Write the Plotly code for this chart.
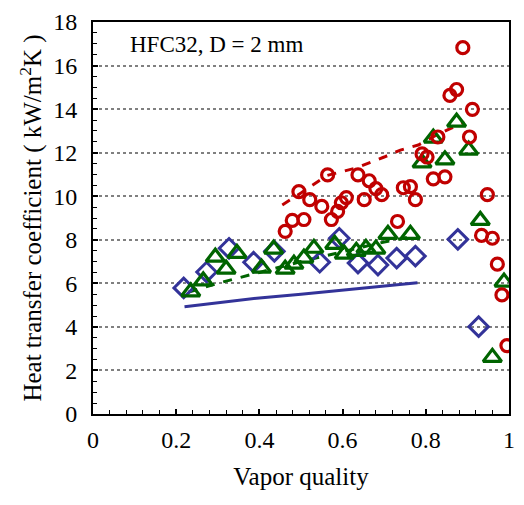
import plotly.graph_objects as go

# Blue diamonds
blue_x = [0.218, 0.273, 0.327, 0.386, 0.436, 0.545, 0.592, 0.637, 0.685, 0.730, 0.775, 0.877, 0.927]
blue_y = [5.79, 6.52, 7.61, 6.97, 7.47, 6.97, 8.07, 6.93, 6.84, 7.16, 7.25, 8.02, 4.01]

# Blue solid correlation line
blue_line_x = [0.22, 0.30, 0.40, 0.50, 0.60, 0.70, 0.78]
blue_line_y = [4.93, 5.12, 5.33, 5.50, 5.68, 5.87, 6.03]

# Green triangles
green_x = [0.235, 0.265, 0.294, 0.320, 0.346, 0.405, 0.434, 0.462, 0.483, 0.507, 0.531,
           0.581, 0.604, 0.633, 0.656, 0.680, 0.709, 0.763, 0.791, 0.818, 0.846, 0.874,
           0.903, 0.931, 0.960, 0.988]
green_y = [5.61, 6.11, 7.20, 6.65, 7.38, 6.70, 7.57, 6.65, 6.88, 7.16, 7.61,
           7.79, 7.34, 7.47, 7.61, 7.57, 8.25, 8.25, 11.53, 12.67, 11.67, 13.40,
           12.12, 8.89, 2.60, 6.06]

# Green dashed line
green_line_x = [0.23, 0.30, 0.40, 0.50, 0.60, 0.70, 0.78]
green_line_y = [5.60, 6.00, 6.50, 7.00, 7.45, 7.90, 8.20]

# Red circles
red_x = [0.462, 0.479, 0.507, 0.495, 0.521, 0.550, 0.564, 0.573, 0.588, 0.597, 0.609,
         0.637, 0.652, 0.664, 0.680, 0.694, 0.732, 0.746, 0.763, 0.775, 0.791, 0.803,
         0.818, 0.846, 0.829, 0.858, 0.874, 0.889, 0.905, 0.912, 0.948, 0.934, 0.960,
         0.972, 0.983, 0.995]
red_y = [8.39, 8.89, 8.93, 10.21, 9.84, 9.53, 10.98, 8.93, 9.30, 9.70, 9.94,
         10.98, 9.84, 10.71, 10.35, 10.07, 8.84, 10.39, 10.44, 9.84, 11.94, 11.80,
         10.80, 10.89, 12.72, 14.63, 14.90, 16.82, 12.72, 13.99, 10.07, 8.20, 8.07,
         6.88, 5.47, 3.14]

# Red dashed line
red_line_x = [0.455, 0.50, 0.562, 0.633, 0.70, 0.739, 0.782, 0.829, 0.893]
red_line_y = [9.60, 10.15, 10.95, 11.30, 11.80, 12.12, 12.35, 12.85, 13.40]

x_ticks = [0, 0.2, 0.4, 0.6, 0.8, 1]
x_tick_labels = ["0", "0.2", "0.4", "0.6", "0.8", "1"]
y_ticks = [0, 2, 4, 6, 8, 10, 12, 14, 16, 18]

RED = "#C00000"
GREEN = "#006400"
BLUE = "#333399"
FONT = "Liberation Serif"

fig = go.Figure()

fig.add_trace(go.Scatter(x=blue_line_x, y=blue_line_y, mode="lines",
                         line=dict(color=BLUE, width=3), showlegend=False))
fig.add_trace(go.Scatter(x=green_line_x, y=green_line_y, mode="lines",
                         line=dict(color=GREEN, width=3, dash="dash"), showlegend=False))
fig.add_trace(go.Scatter(x=red_line_x, y=red_line_y, mode="lines",
                         line=dict(color=RED, width=3, dash="dash"), showlegend=False))

fig.add_trace(go.Scatter(x=blue_x, y=blue_y, mode="markers",
                         marker=dict(symbol="diamond-open", size=15, color=BLUE,
                                     line=dict(width=3, color=BLUE)), showlegend=False))
fig.add_trace(go.Scatter(x=green_x, y=green_y, mode="markers",
                         marker=dict(symbol="triangle-up-open", size=16, color=GREEN,
                                     line=dict(width=3.2, color=GREEN)), showlegend=False))
fig.add_trace(go.Scatter(x=red_x, y=red_y, mode="markers",
                         marker=dict(symbol="circle-open", size=12, color=RED,
                                     line=dict(width=3.2, color=RED)), showlegend=False))

fig.add_annotation(x=0.085, y=16.95, xref="x", yref="y", xanchor="left", yanchor="middle",
                   text="HFC32, D = 2 mm", showarrow=False,
                   font=dict(family=FONT, size=23, color="black"))

fig.update_layout(
    width=524, height=505,
    margin=dict(l=93, r=9, t=19, b=91),
    plot_bgcolor="white", paper_bgcolor="white",
    font=dict(family=FONT, size=24, color="black"),
)

fig.update_xaxes(
    range=[0, 1], tickvals=x_ticks, ticktext=x_tick_labels,
    showline=True, linecolor="black", linewidth=2, mirror=True,
    ticks="inside", ticklen=5, tickcolor="black", tickwidth=1.5,
    minor=dict(dtick=0.04, ticks="inside", ticklen=4, tickcolor="black", tickwidth=1.2),
    showgrid=False, zeroline=False, ticklabelstandoff=3,
    tickfont=dict(family=FONT, size=24),
    title=dict(text="Vapor quality", font=dict(family=FONT, size=25), standoff=16),
)
fig.update_yaxes(
    range=[0, 18], tickvals=y_ticks,
    showline=True, linecolor="black", linewidth=2, mirror=True,
    ticks="inside", ticklen=5, tickcolor="black", tickwidth=1.5,
    minor=dict(dtick=0.5, ticks="inside", ticklen=4, tickcolor="black", tickwidth=1.2,
               showgrid=False),
    showgrid=True, gridcolor="#808080", gridwidth=1.5, griddash="dot",
    zeroline=False, ticklabelstandoff=9,
    tickfont=dict(family=FONT, size=24),
    title=dict(text="Heat transfer coefficient ( kW/m<sup>2</sup>K )",
               font=dict(family=FONT, size=25), standoff=4),
)

fig.write_html("out.html")
